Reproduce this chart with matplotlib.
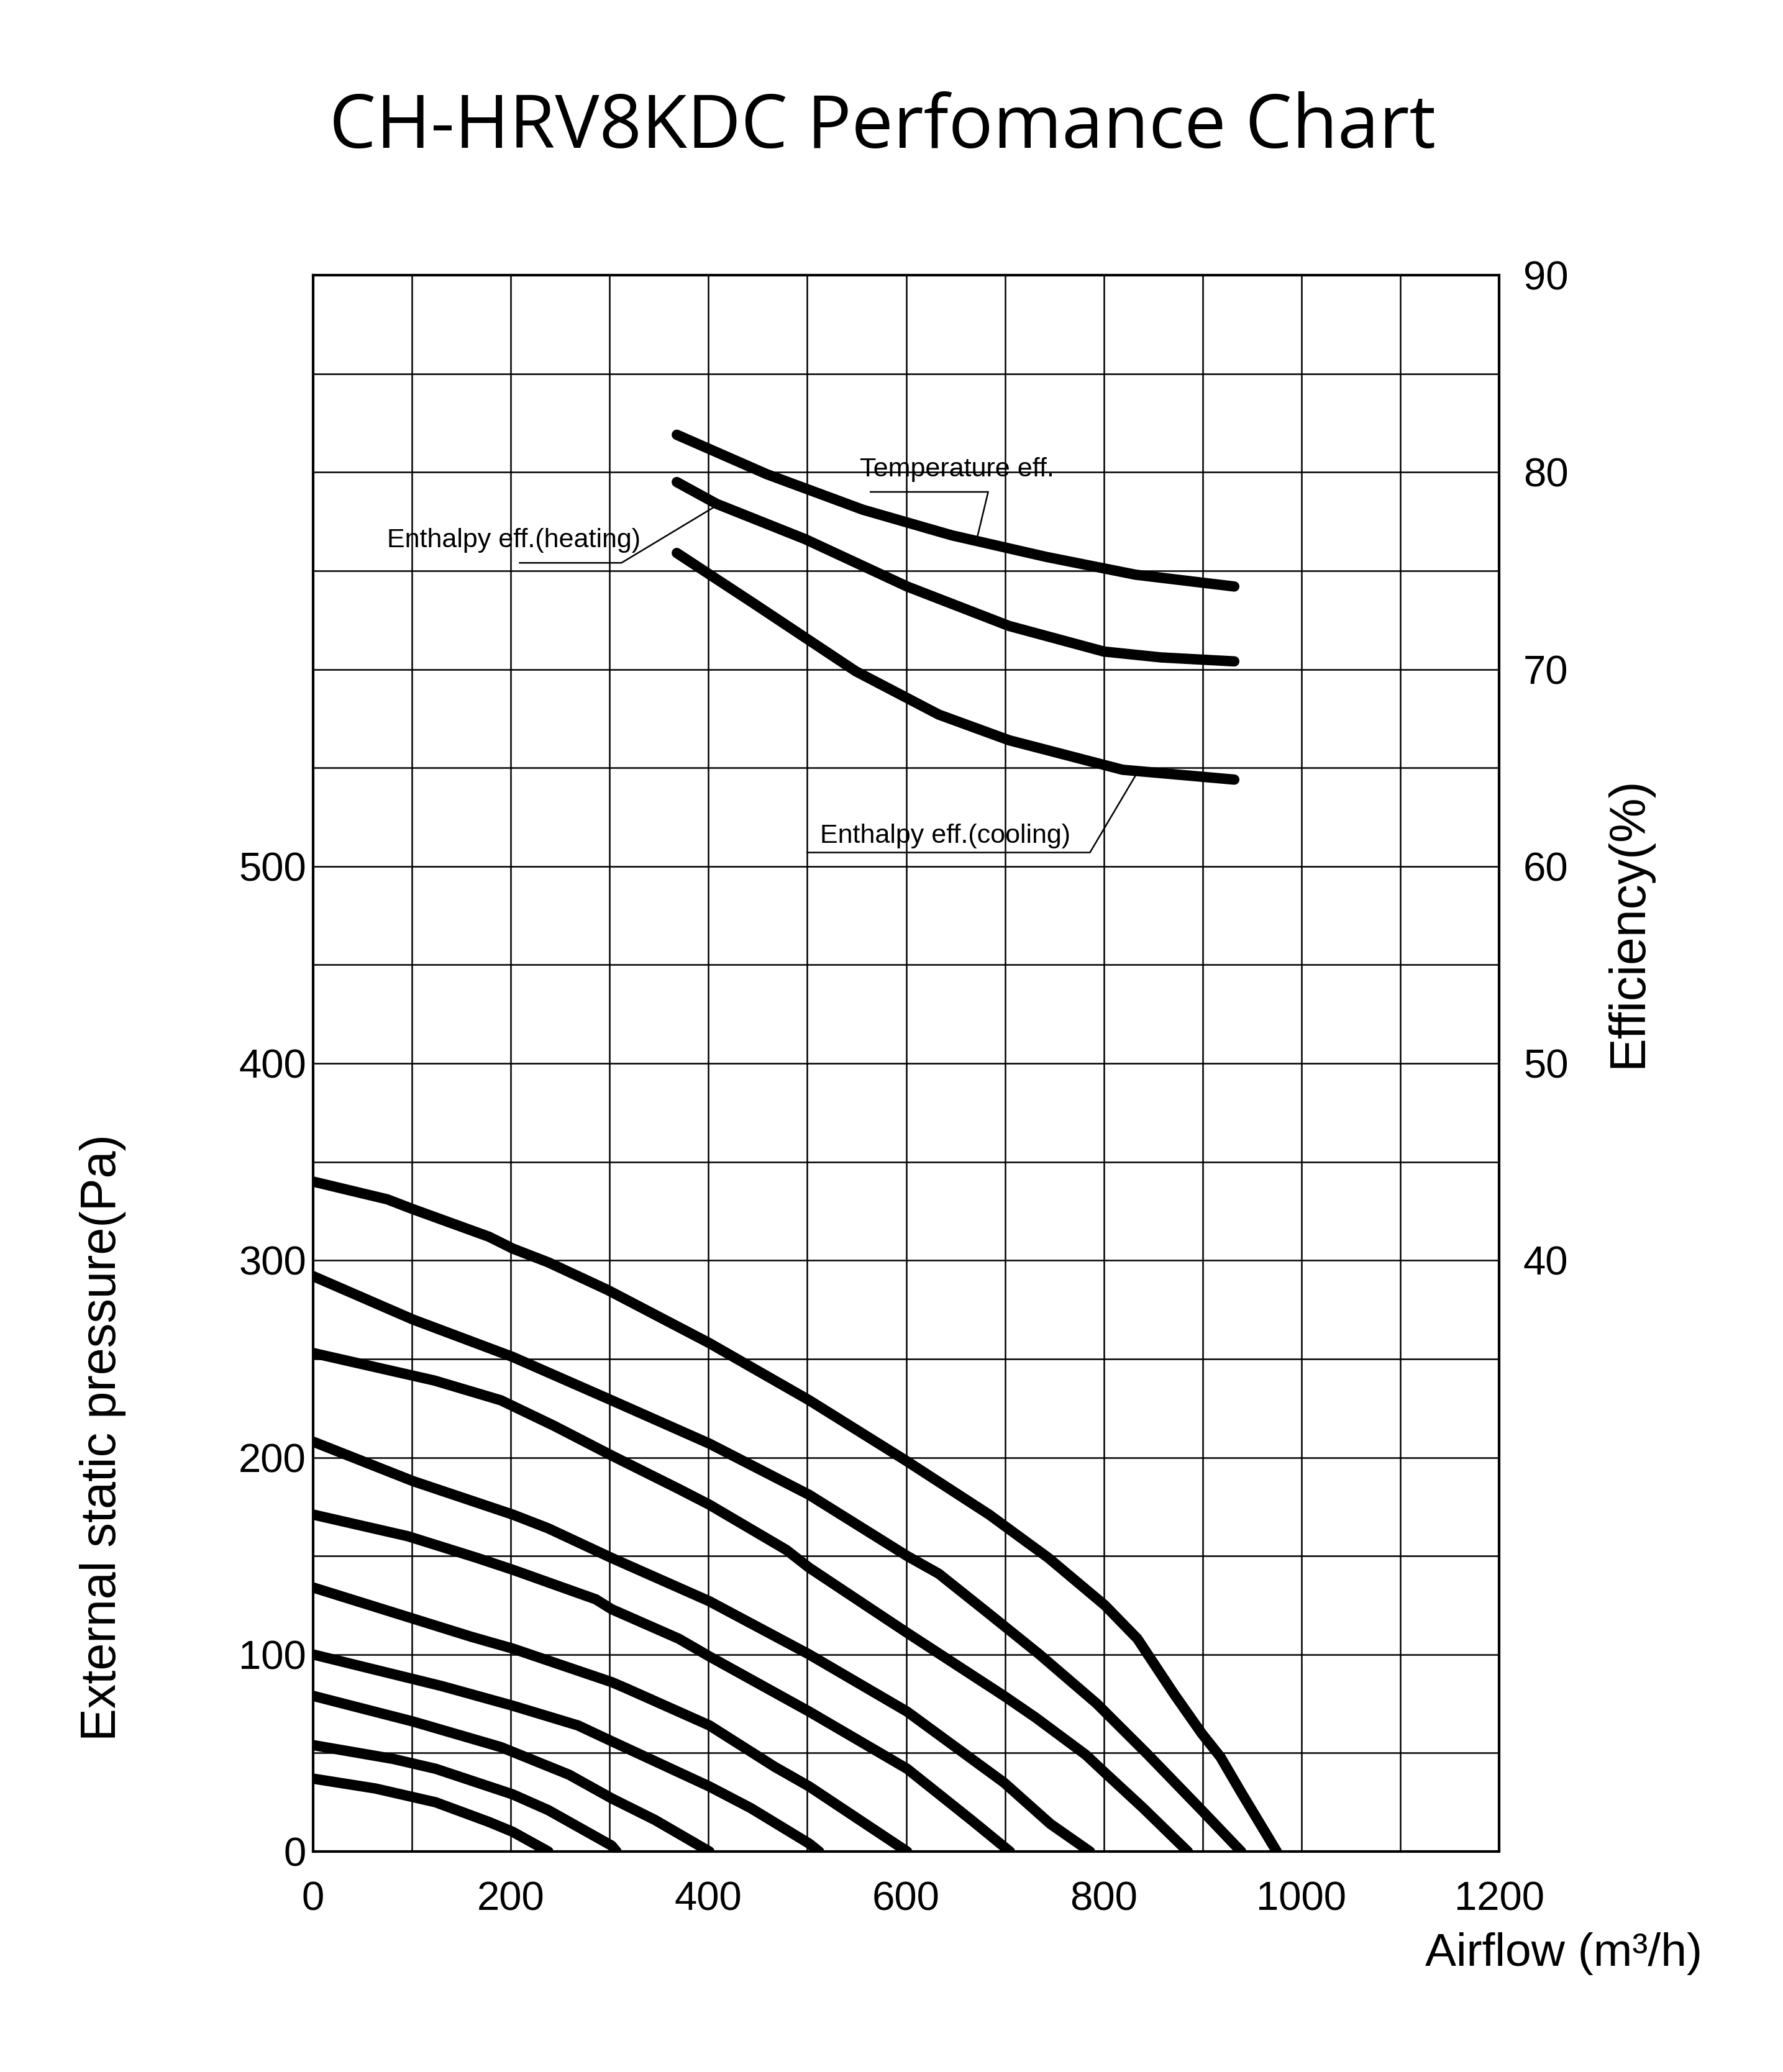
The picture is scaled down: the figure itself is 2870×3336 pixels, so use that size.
"""CH-HRV8KDC performance chart: fan curves (static pressure vs airflow)
plus heat-recovery efficiency curves on a secondary axis."""
import matplotlib

matplotlib.use("Agg")
import matplotlib.pyplot as plt  # noqa: E402
import numpy as np  # noqa: E402

# fan curves, airflow (m3/h) vs external static pressure (Pa), top to bottom
fan_airflow = [
    [0, 75, 101, 178, 202, 238, 298, 401, 502, 601, 684, 744, 801, 834, 871, 899, 918, 939, 975],
    [0, 101, 202, 302, 401, 502, 601, 633, 683, 735, 793, 845, 899, 939],
    [0, 123, 190, 244, 302, 370, 401, 479, 502, 601, 699, 731, 782, 799, 840, 885],
    [0, 101, 202, 238, 302, 401, 502, 601, 699, 746, 786],
    [0, 96, 166, 202, 286, 302, 370, 401, 502, 601, 666, 705],
    [0, 160, 202, 302, 316, 401, 467, 502, 601],
    [0, 130, 202, 268, 302, 401, 443, 502, 512],
    [0, 101, 190, 259, 302, 346, 401],
    [0, 81, 124, 166, 202, 238, 302, 307],
    [0, 63, 124, 178, 202, 238],
]
fan_pressure = [
    [340, 331, 326, 312, 306, 299, 285, 258, 229, 198, 171, 149, 125, 108, 80, 60, 48, 30, 0],
    [292, 270, 251, 229, 207, 181, 150, 141, 121, 100, 75, 49, 21, 0],
    [253, 239, 229, 216, 201, 184, 176, 153, 144, 111, 79, 68, 49, 41, 22, 0],
    [208, 188, 171, 164, 149, 127, 100, 71, 35, 14, 0],
    [171, 160, 149, 143, 128, 123, 108, 99, 71, 42, 16, 0],
    [134, 109, 103, 86, 83, 64, 43, 33, 0],
    [100, 84, 74, 64, 56, 33, 22, 4, 0],
    [79, 66, 53, 39, 27, 16, 0],
    [54, 47, 42, 35, 29, 21, 3, 0],
    [37, 32, 25, 15, 10, 0],
]

# efficiency curves (%)
temp_airflow = [368, 459, 556, 646, 742, 832, 932]
temp_eff = [81.9, 79.9, 78.1, 76.8, 75.7, 74.8, 74.2]
heat_airflow = [368, 408, 498, 601, 704, 800, 858, 932]
heat_eff = [79.5, 78.4, 76.6, 74.2, 72.2, 70.9, 70.6, 70.4]
cool_airflow = [368, 447, 549, 633, 704, 819, 932]
cool_eff = [75.9, 73.3, 69.9, 67.7, 66.4, 64.9, 64.4]

x_ticks = [0, 200, 400, 600, 800, 1000, 1200]
pa_ticks = [0, 100, 200, 300, 400, 500]
eff_ticks = [40, 50, 60, 70, 80, 90]

TICK_FONT = "Liberation Sans"

fig = plt.figure(figsize=(28.7, 33.36), dpi=100)
ax = fig.add_axes([0.1756, 0.1064, 0.6652, 0.7608])

# grid: every 100 m3/h and every 50 Pa
ax.set_xlim(0, 1200)
ax.set_ylim(0, 800)
ax.set_xticks(np.arange(0, 1201, 100))
ax.set_xticklabels([str(v) if v in x_ticks else "" for v in range(0, 1201, 100)],
                   family=TICK_FONT, fontsize=47)
ax.set_yticks(np.arange(0, 801, 50))
ax.set_yticklabels([str(v) if v in pa_ticks else "" for v in range(0, 801, 50)],
                   family=TICK_FONT, fontsize=47)
ax.tick_params(axis="both", length=0)
ax.tick_params(axis="x", pad=34)
ax.tick_params(axis="y", pad=8)
ax.grid(True, color="black", linewidth=1.8)
for s in ax.spines.values():
    s.set_linewidth(3)

for xs, ps in zip(fan_airflow, fan_pressure):
    ax.plot(xs, ps, color="black", linewidth=12, solid_capstyle="round",
            solid_joinstyle="round")

ax2 = ax.twinx()
ax2.set_ylim(10, 90)
ax2.set_yticks(eff_ticks)
ax2.set_yticklabels([str(v) for v in eff_ticks], family=TICK_FONT, fontsize=47)
ax2.tick_params(axis="y", length=0, pad=28)
for s in ax2.spines.values():
    s.set_visible(False)

for xs, es in [(temp_airflow, temp_eff), (heat_airflow, heat_eff), (cool_airflow, cool_eff)]:
    ax2.plot(xs, es, color="black", linewidth=12, solid_capstyle="round",
             solid_joinstyle="round")

# callout labels with leader lines
lw_lead = 1.8
ax2.text(553, 79.5, "Temperature eff.", family=TICK_FONT, fontsize=31,
         ha="left", va="bottom")
ax2.plot([564, 683, 672], [79.0, 79.0, 76.7], color="black", linewidth=lw_lead)

ax2.text(75, 75.9, "Enthalpy eff.(heating)", family=TICK_FONT, fontsize=31,
         ha="left", va="bottom")
ax2.plot([209, 312, 408], [75.4, 75.4, 78.3], color="black", linewidth=lw_lead)

ax2.text(513, 60.9, "Enthalpy eff.(cooling)", family=TICK_FONT, fontsize=31,
         ha="left", va="bottom")
ax2.plot([500, 786, 832], [60.7, 60.7, 64.6], color="black", linewidth=lw_lead)

fig.text(0.4948, 0.938, "CH-HRV8KDC Perfomance Chart", family="Open Sans",
         fontsize=86, ha="center", va="center")
fig.text(0.0578, 0.3063, "External static pressure(Pa)", family=TICK_FONT,
         fontsize=57, rotation=90, ha="center", va="center")
fig.text(0.9132, 0.5549, "Efficiency(%)", family=TICK_FONT,
         fontsize=58, rotation=90, ha="center", va="center")
fig.text(0.877, 0.0572, "Airflow (m³/h)", family=TICK_FONT,
         fontsize=54, ha="center", va="center")

fig.savefig("out.png", dpi=100, facecolor="white")
